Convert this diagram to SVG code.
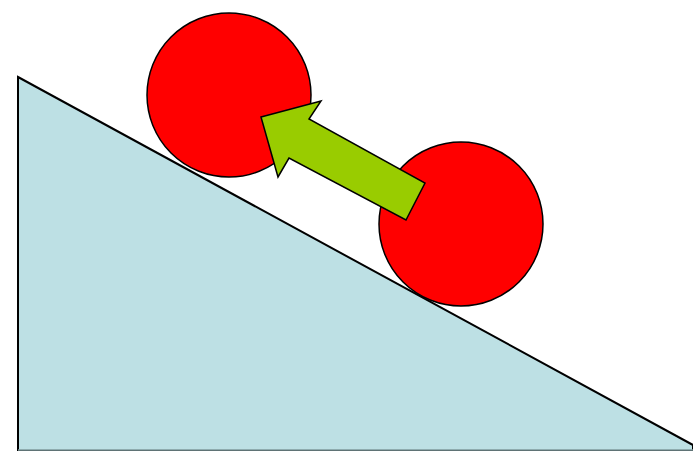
<svg xmlns="http://www.w3.org/2000/svg" width="693" height="451" viewBox="0 0 693 451">
<style>
.ball{fill:#ff0000;stroke:#000;stroke-width:1.5}
.ramp{fill:#bde0e4;stroke:#000;stroke-width:2}
.arrow{fill:#99cc00;stroke:#000;stroke-width:1.5;stroke-linejoin:miter}
</style>
<rect width="693" height="451" fill="#fff"/>
<g id="ramp">
<polygon class="ramp" points="18,77 693,445 693,451 18,451"/>
<line x1="18" y1="450" x2="693" y2="450" stroke="#7f9a9c" stroke-width="1.5"/>
</g>
<g id="ball1"><circle class="ball" cx="229" cy="95" r="82"/></g>
<g id="ball2"><circle class="ball" cx="461" cy="224" r="82"/></g>
<g id="connectors">
<polygon class="arrow" points="261,117 321,101 309,119 425,183 406,220 289,158 278,177"/>
</g>
</svg>
